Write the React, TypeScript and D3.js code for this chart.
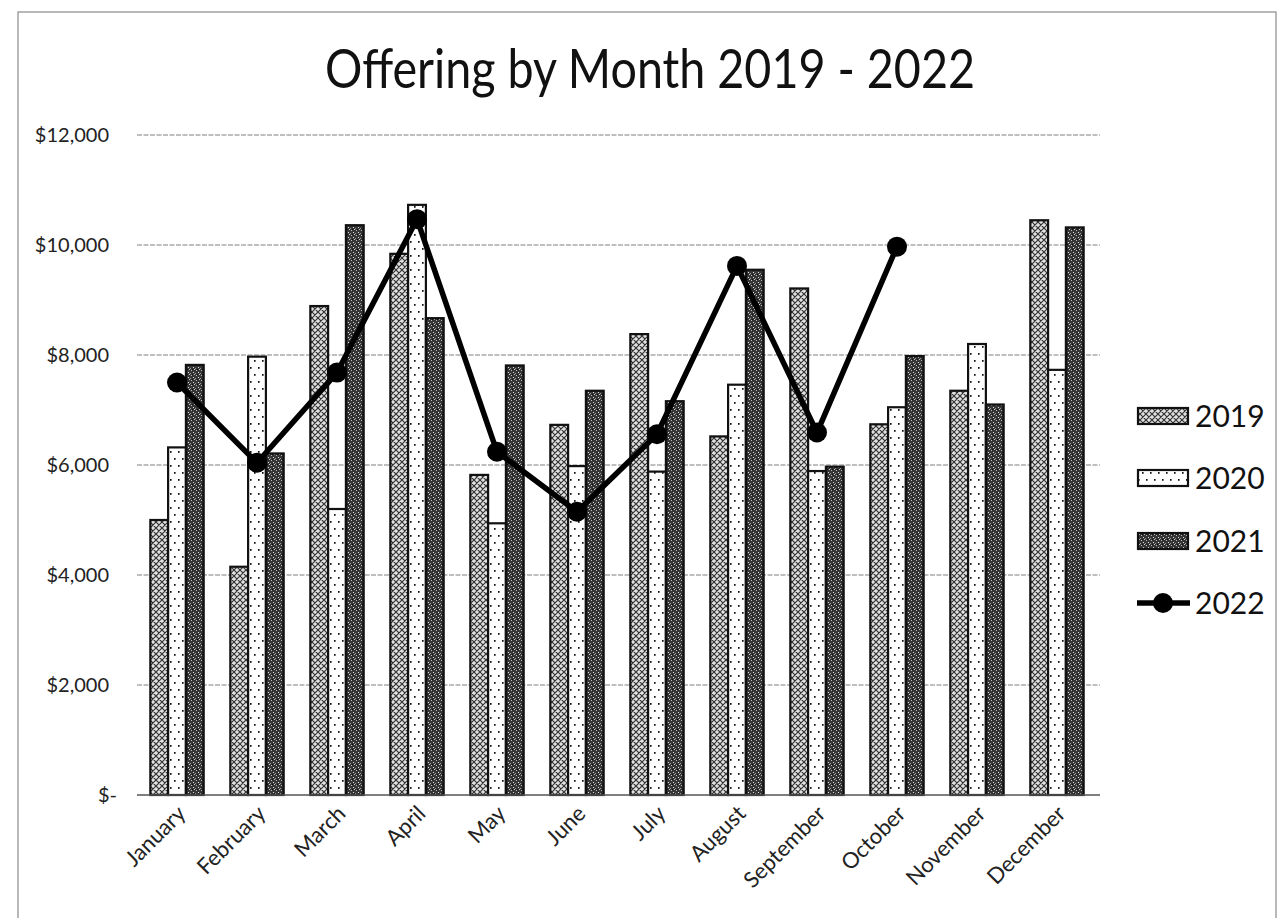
import { useEffect, useRef } from 'react';
import * as d3 from 'd3';

const months = [
  'January', 'February', 'March', 'April', 'May', 'June',
  'July', 'August', 'September', 'October', 'November', 'December'
];
const years = ['2019', '2020', '2021'];
const v2019 = [5000, 4150, 8890, 9840, 5820, 6730, 8380, 6520, 9210, 6740, 7350, 10450];
const v2020 = [6320, 7970, 5200, 10730, 4940, 5980, 5880, 7460, 5890, 7050, 8200, 7730];
const v2021 = [7820, 6210, 10360, 8670, 7810, 7350, 7160, 9550, 5970, 7980, 7100, 10320];
const v2022: (number | null)[] = [7500, 6040, 7680, 10470, 6240, 5150, 6560, 9620, 6590, 9970, null, null];
const yTicks = [0, 2000, 4000, 6000, 8000, 10000, 12000];

const W = 1280;
const H = 918;

export default function App() {
  const svgRef = useRef<SVGSVGElement>(null);

  useEffect(() => {
    if (!svgRef.current) return;
    const svg = d3.select(svgRef.current);
    svg.selectAll('*').remove();

    const left = 137, right = 1097, top = 135, bottom = 795;
    const font = 'Lato, "Open Sans", sans-serif';

    // patterns
    const defs = svg.append('defs');
    const p19 = defs.append('pattern').attr('id', 'p2019').attr('patternUnits', 'userSpaceOnUse')
      .attr('width', 6).attr('height', 6);
    p19.append('rect').attr('width', 6).attr('height', 6).attr('fill', '#e0e0e0');
    p19.append('path').attr('d', 'M0,0L6,6M6,0L0,6M-1,5L1,7M5,-1L7,1').attr('stroke', '#333').attr('stroke-width', 1.2);

    const p20 = defs.append('pattern').attr('id', 'p2020').attr('patternUnits', 'userSpaceOnUse')
      .attr('width', 8).attr('height', 14);
    p20.append('rect').attr('width', 8).attr('height', 14).attr('fill', '#fff');
    p20.append('rect').attr('x', 2).attr('y', 3).attr('width', 1.6).attr('height', 1.8).attr('fill', '#111');
    p20.append('rect').attr('x', 6).attr('y', 10).attr('width', 1.6).attr('height', 1.8).attr('fill', '#111');

    const p21 = defs.append('pattern').attr('id', 'p2021').attr('patternUnits', 'userSpaceOnUse')
      .attr('width', 5).attr('height', 5);
    p21.append('rect').attr('width', 5).attr('height', 5).attr('fill', '#353535');
    p21.append('rect').attr('x', 1).attr('y', 0).attr('width', 1).attr('height', 1).attr('fill', '#bbb');
    p21.append('rect').attr('x', 3).attr('y', 2).attr('width', 1).attr('height', 1).attr('fill', '#ddd');
    p21.append('rect').attr('x', 0).attr('y', 3).attr('width', 1).attr('height', 1).attr('fill', '#999');
    p21.append('rect').attr('x', 4).attr('y', 4).attr('width', 1).attr('height', 1).attr('fill', '#ccc');
    p21.append('rect').attr('x', 2).attr('y', 4).attr('width', 1).attr('height', 1).attr('fill', '#111');

    const fills: Record<string, string> = { '2019': 'url(#p2019)', '2020': 'url(#p2020)', '2021': 'url(#p2021)' };

    svg.append('rect').attr('width', W).attr('height', H).attr('fill', '#fff');
    // chart border
    svg.append('rect').attr('x', 18).attr('y', 12).attr('width', 1258).attr('height', 930)
      .attr('fill', 'none').attr('stroke', '#8a8a8a').attr('stroke-width', 1.2);

    const x = d3.scaleBand<string>().domain(months).range([left, right]).paddingInner(0.333).paddingOuter(0.1667);
    const xs = d3.scaleBand<string>().domain(years).range([0, x.bandwidth()]);
    const y = d3.scaleLinear().domain([0, 12000]).range([bottom, top]);
    const cx = (m: string) => (x(m) ?? 0) + x.bandwidth() / 2;

    // gridlines
    svg.append('g').selectAll('line').data(yTicks.filter(t => t > 0)).enter().append('line')
      .attr('x1', left).attr('x2', right + 3)
      .attr('y1', d => y(d)).attr('y2', d => y(d))
      .attr('stroke', '#808080').attr('stroke-width', 1.2).attr('stroke-dasharray', '5,1.5');

    // y labels
    svg.append('g').selectAll('text').data(yTicks).enter().append('text')
      .attr('x', d => (d === 0 ? 117 : 109)).attr('y', d => y(d) + 7)
      .attr('text-anchor', 'end').attr('font-family', font).attr('font-size', 20).attr('fill', '#222')
      .text(d => (d === 0 ? '$-' : d3.format('$,')(d)));

    // bars
    const series: [string, number[]][] = [['2019', v2019], ['2020', v2020], ['2021', v2021]];
    series.forEach(([yr, vals]) => {
      svg.append('g').selectAll('rect').data(vals).enter().append('rect')
        .attr('x', (_, i) => (x(months[i]) ?? 0) + (xs(yr) ?? 0))
        .attr('y', d => y(d))
        .attr('width', xs.bandwidth())
        .attr('height', d => y(0) - y(d))
        .attr('fill', fills[yr])
        .attr('stroke', '#111').attr('stroke-width', 2.2);
    });

    // axis baseline
    svg.append('line').attr('x1', left).attr('x2', right + 3).attr('y1', bottom).attr('y2', bottom)
      .attr('stroke', '#555').attr('stroke-width', 1.4);

    // x labels
    svg.append('g').selectAll('text').data(months).enter().append('text')
      .attr('transform', m => `translate(${cx(m) + 10},${bottom + 20}) rotate(-45)`)
      .attr('text-anchor', 'end').attr('font-family', font).attr('font-size', 22).attr('fill', '#222')
      .text(m => m);

    // 2022 line
    const pts = v2022.map((v, i) => ({ m: months[i], v })).filter(d => d.v !== null) as { m: string; v: number }[];
    const line = d3.line<{ m: string; v: number }>().x(d => cx(d.m)).y(d => y(d.v));
    svg.append('path').datum(pts).attr('d', line).attr('fill', 'none')
      .attr('stroke', '#000').attr('stroke-width', 5.5).attr('stroke-linejoin', 'round');
    svg.append('g').selectAll('circle').data(pts).enter().append('circle')
      .attr('cx', d => cx(d.m)).attr('cy', d => y(d.v)).attr('r', 10).attr('fill', '#000');

    // title
    svg.append('text').attr('x', 650).attr('y', 88).attr('text-anchor', 'middle')
      .attr('font-family', font).attr('font-size', 54).attr('fill', '#111')
      .attr('textLength', 650).attr('lengthAdjust', 'spacingAndGlyphs')
      .text('Offering by Month 2019 - 2022');

    // legend
    const legY = [416, 478, 541, 603];
    const leg = svg.append('g');
    years.forEach((yr, i) => {
      leg.append('rect').attr('x', 1138).attr('y', legY[i] - 8).attr('width', 50).attr('height', 16)
        .attr('fill', fills[yr]).attr('stroke', '#111').attr('stroke-width', 2.2);
      leg.append('text').attr('x', 1195).attr('y', legY[i] + 11).attr('font-family', font)
        .attr('font-size', 30).attr('fill', '#111').text(yr);
    });
    leg.append('line').attr('x1', 1137).attr('x2', 1190).attr('y1', legY[3]).attr('y2', legY[3])
      .attr('stroke', '#000').attr('stroke-width', 5.5);
    leg.append('circle').attr('cx', 1163).attr('cy', legY[3]).attr('r', 10).attr('fill', '#000');
    leg.append('text').attr('x', 1195).attr('y', legY[3] + 11).attr('font-family', font)
      .attr('font-size', 30).attr('fill', '#111').text('2022');
  }, []);

  return (
    <svg ref={svgRef} width={W} height={H}
      style={{ position: 'absolute', left: 0, top: 0, display: 'block' }} />
  );
}
